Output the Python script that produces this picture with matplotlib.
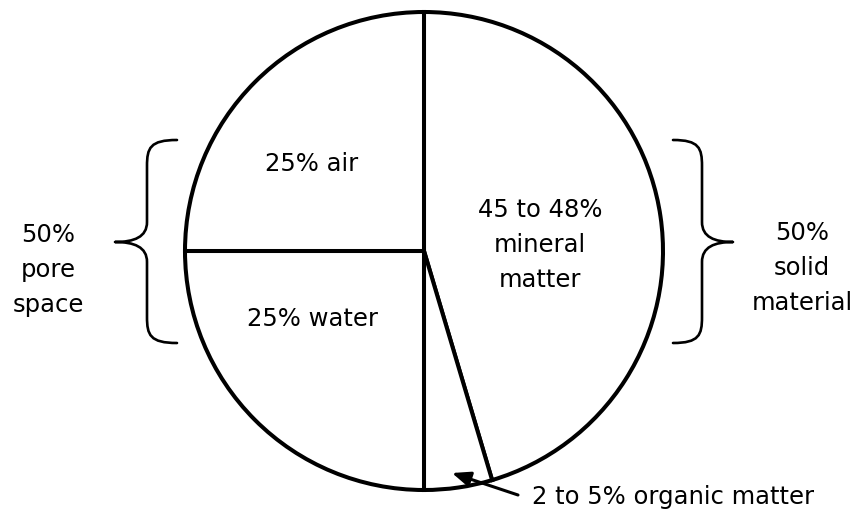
import matplotlib.pyplot as plt
from matplotlib.path import Path
from matplotlib.patches import PathPatch

# slice shares (percent), clockwise from 12 o'clock
slices = ["mineral", "organic", "water", "air"]
shares = [45.4, 4.6, 25.0, 25.0]
slice_labels = ["45 to 48%\nmineral\nmatter", "2 to 5% organic matter", "25% water", "25% air"]
left_label = "50%\npore\nspace"
right_label = "50%\nsolid\nmaterial"

W, H = 856, 514
FONT = "DejaVu Sans"


def px(x, y):
    """pixel coords (y down) -> data coords (y up)"""
    return x, H - y


def brace(x_end, x_mid, x_tip, y_top, y_tip, y_bot):
    d = x_mid - x_end
    t = x_tip - x_mid
    pts = [
        (x_end, y_top),
        (x_end + 0.9 * d, y_top), (x_mid, y_top + 8), (x_mid, y_top + 26),
        (x_mid, y_tip - 20),
        (x_mid, y_tip - 5), (x_mid + 0.4 * t, y_tip), (x_tip, y_tip),
        (x_mid + 0.4 * t, y_tip), (x_mid, y_tip + 5), (x_mid, y_tip + 20),
        (x_mid, y_bot - 26),
        (x_mid, y_bot - 8), (x_end + 0.9 * d, y_bot), (x_end, y_bot),
    ]
    codes = [Path.MOVETO] + [Path.CURVE4] * 3 + [Path.LINETO] + [Path.CURVE4] * 6 \
        + [Path.LINETO] + [Path.CURVE4] * 3
    verts = [px(x, y) for x, y in pts]
    return PathPatch(Path(verts, codes), fill=False, lw=1.9, ec="black",
                     capstyle="round", joinstyle="round")


fig = plt.figure(figsize=(W / 100, H / 100), dpi=100)
ax = fig.add_axes([0, 0, 1, 1])

ax.pie(shares, startangle=90, counterclock=False, center=px(424, 251), radius=239,
       colors=["white"] * len(shares),
       wedgeprops=dict(edgecolor="black", linewidth=2.9, joinstyle="miter"))
ax.set_xlim(0, W)
ax.set_ylim(0, H)
ax.set_aspect("equal")
ax.axis("off")

txt = dict(fontsize=17.5, family=FONT, ha="center", va="center", linespacing=1.6)
ax.text(*px(540, 245), slice_labels[0], **txt)
ax.text(*px(312, 164), slice_labels[3], **txt)
ax.text(*px(313, 319), slice_labels[2], **txt)
ax.text(*px(532, 497), slice_labels[1], fontsize=17.5, family=FONT, ha="left", va="center")
ax.annotate("", xy=px(452, 473), xytext=px(518, 495),
            arrowprops=dict(arrowstyle="-|>,head_length=1.1,head_width=0.45",
                            color="black", lw=2.2, shrinkA=0, shrinkB=0))

ax.add_patch(brace(177, 147, 115, 140, 242, 343))
ax.add_patch(brace(673, 702, 733, 140, 242, 343))
ax.text(*px(48, 270), left_label, **txt)
ax.text(*px(802, 268), right_label, **txt)

fig.savefig("out.png", dpi=100)
